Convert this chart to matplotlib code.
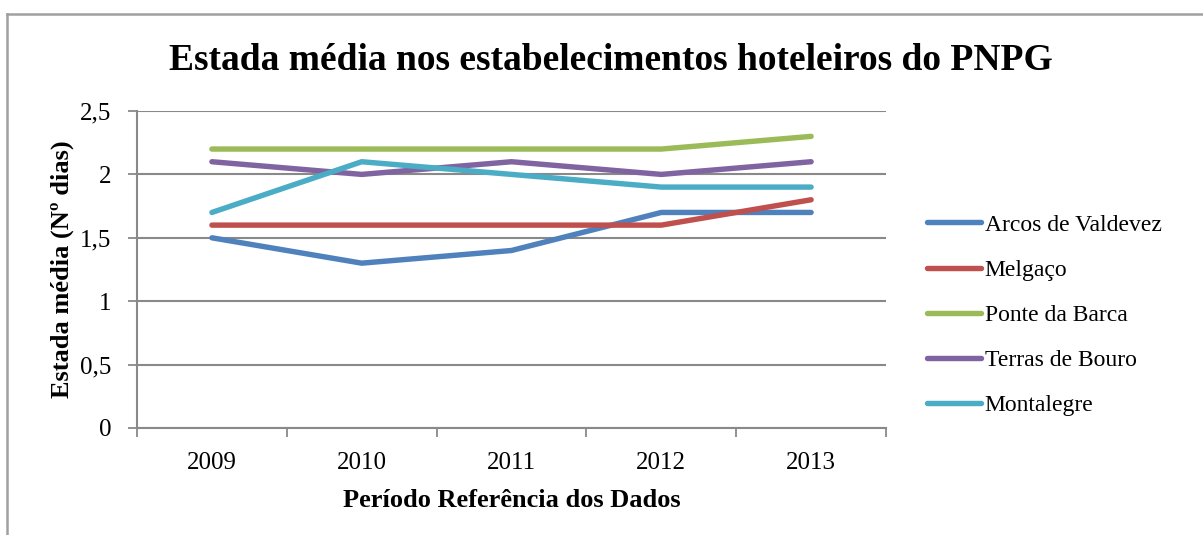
import matplotlib
matplotlib.use('Agg')
from matplotlib import pyplot as plt
from matplotlib.lines import Line2D
from matplotlib.ticker import FixedLocator, FuncFormatter

plt.rcParams['font.family'] = ['Liberation Serif', 'DejaVu Serif']

#data
anos = ['2009', '2010', '2011', '2012', '2013']
arcos = [1.5, 1.3, 1.4, 1.7, 1.7]
melgaco = [1.6, 1.6, 1.6, 1.6, 1.8]
ponte = [2.2, 2.2, 2.2, 2.2, 2.3]
terras = [2.1, 2.0, 2.1, 2.0, 2.1]
montalegre = [1.7, 2.1, 2.0, 1.9, 1.9]
nomes = ['Arcos de Valdevez', 'Melgaço', 'Ponte da Barca', 'Terras de Bouro', 'Montalegre']
cores = ['#4F81BD', '#C0504D', '#9BBB59', '#8064A2', '#4BACC6']

fig = plt.figure(figsize=(12.03, 5.35), dpi=100)
ax = fig.add_axes([0.1139, 0.2, 0.6226, 0.5925])

x = list(range(len(anos)))
for serie, nome, cor in zip([arcos, melgaco, ponte, terras, montalegre], nomes, cores):
    ax.plot(x, serie, color=cor, linewidth=3.9, solid_capstyle='round', label=nome)

ax.set_xlim(-0.5, len(anos) - 0.5)
ax.set_ylim(0, 2.5)
ax.set_yticks([0, 0.5, 1, 1.5, 2, 2.5])
ax.yaxis.set_major_formatter(FuncFormatter(lambda v, p: ('%g' % v).replace('.', ',')))
ax.yaxis.grid(True, color='#898989', linewidth=1.5)
ax.set_axisbelow(True)

#category labels in the middle, tick marks on the boundaries
ax.set_xticks(x)
ax.set_xticklabels(anos)
ax.xaxis.set_minor_locator(FixedLocator([i - 0.5 for i in range(len(anos) + 1)]))
ax.tick_params(axis='x', which='major', length=0, labelsize=18, pad=17)
ax.tick_params(axis='x', which='minor', length=6.5, width=1.3, color='#898989')
ax.tick_params(axis='y', length=6.5, width=1.3, color='#898989', labelsize=18, pad=12)

for s in ['top', 'right']:
    ax.spines[s].set_visible(False)
for s in ['left', 'bottom']:
    ax.spines[s].set_color('#898989')
    ax.spines[s].set_linewidth(1.5)

ax.set_xlabel('Período Referência dos Dados', fontsize=19, fontweight='bold', labelpad=11)
ax.set_ylabel('Estada média (Nº dias)', fontsize=19, fontweight='bold', labelpad=4)

fig.suptitle('Estada média nos estabelecimentos hoteleiros do PNPG', fontsize=27,
             fontweight='bold', x=0.508, y=0.887, va='center')

ax.legend(loc='center left', bbox_to_anchor=(1.0547, 0.356), frameon=False, fontsize=17,
          handlelength=2.3, handletextpad=0.15, labelspacing=1.0,
          borderaxespad=0, borderpad=0)

#chart area border (only top and left visible)
fig.add_artist(Line2D([0.0058, 1.0], [0.9738, 0.9738], color='#A0A0A0', linewidth=1.8,
                      transform=fig.transFigure))
fig.add_artist(Line2D([0.0058, 0.0058], [0.0, 0.9738], color='#A0A0A0', linewidth=1.8,
                      transform=fig.transFigure))

fig.savefig('out.png', dpi=100)
